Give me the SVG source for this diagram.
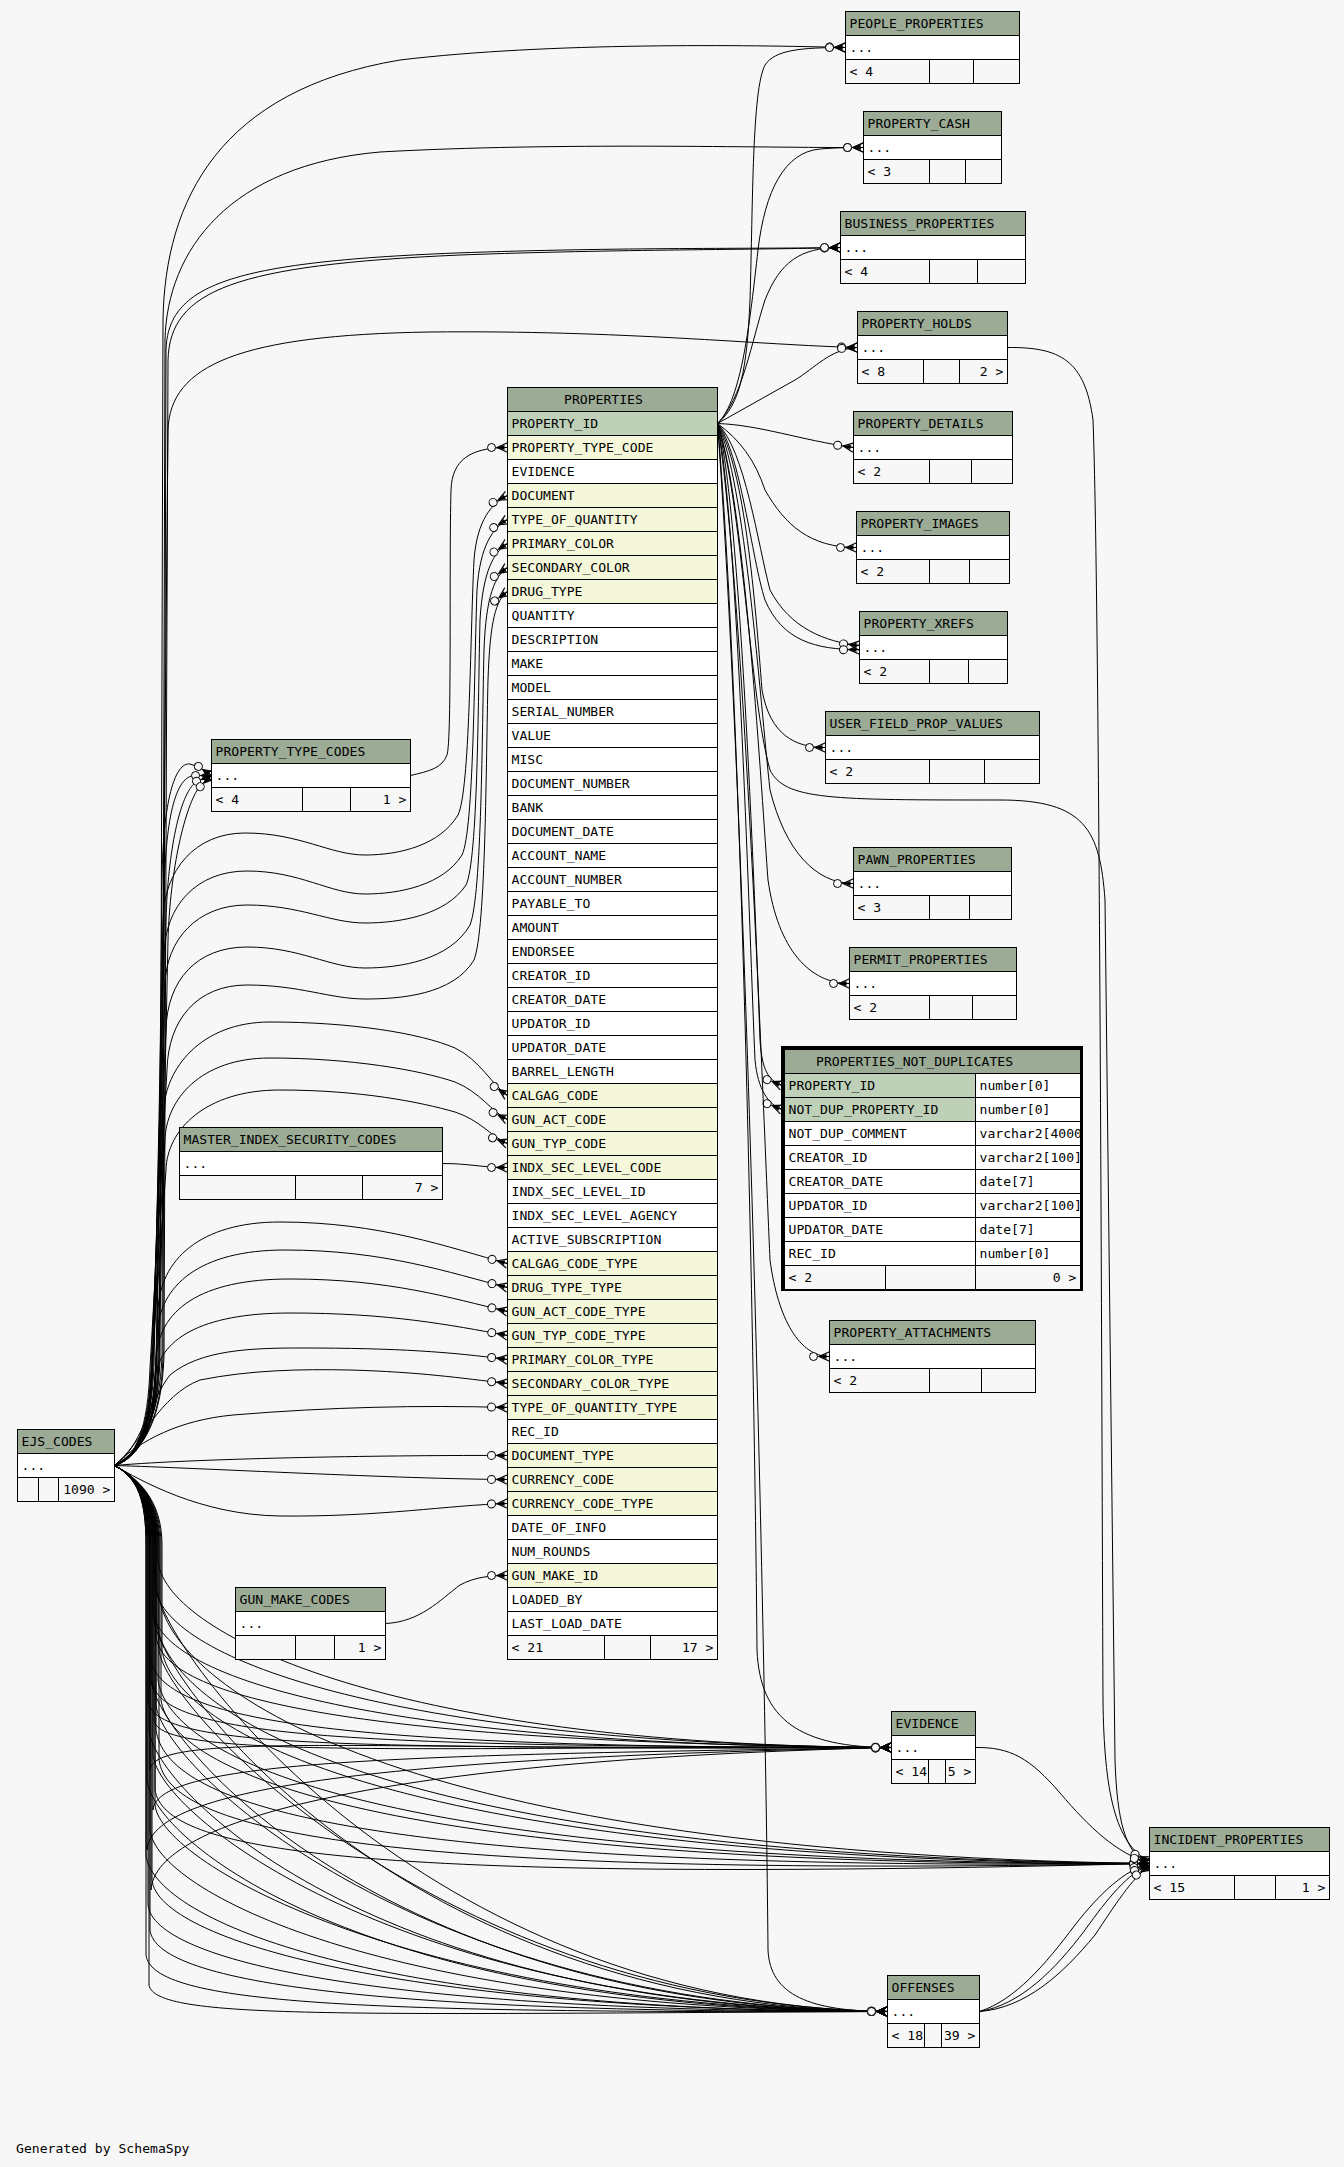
<svg xmlns="http://www.w3.org/2000/svg" width="1344" height="2167" viewBox="0 0 1344 2167">
<style>
.t{font-family:"DejaVu Sans Mono","Liberation Mono",monospace;font-size:13.1px;fill:#000}
.r{text-anchor:end}
.h{fill:#9bab96;stroke:#000;stroke-width:1}
.b{fill:#fff;stroke:#000;stroke-width:1}
.pk{fill:#bed1b8;stroke:#000;stroke-width:1}
.fk{fill:#f4f7da;stroke:#000;stroke-width:1}
.f{fill:#f7f7f7;stroke:#000;stroke-width:1}
.l{stroke:#000;stroke-width:1}
.e path{fill:none;stroke:#000;stroke-width:1;marker-end:url(#crow)}
</style>
<defs>
<marker id="crow" markerUnits="userSpaceOnUse" markerWidth="24" markerHeight="14" viewBox="-22 -7 24 14" refX="0" refY="0" orient="auto" overflow="visible">
<circle cx="-16" cy="0" r="4" fill="#f7f7f7" stroke="#000" stroke-width="1"/>
<path d="M0,-4.7 L-10.5,0 L0,4.7 M-10.5,0 L0,0" fill="none" stroke="#000" stroke-width="1.2"/>
<path d="M-10.5,0 L-3,-2.4 L-3,2.4 Z" fill="#000"/>
</marker>
<clipPath id="ndclip"><rect x="784" y="1049" width="296" height="240"/></clipPath>
</defs>
<rect x="0" y="0" width="1344" height="2167" fill="#f7f7f7"/>

<g id="connectors" class="e">
<!-- EJS_CODES to upper tables -->
<path d="M114.5,1465.5 C142,1452 158,1420 160,1360 L163,320 C165,200 220,90 400,60 C550,42 750,45 845.5,47.5"/>
<path d="M114.5,1465.5 C143,1450 160,1415 162,1355 L165,340 C167,250 230,165 380,152 C560,142 760,148 863.5,147.5"/>
<path d="M114.5,1465.5 C144,1451 161,1418 163,1358 L166,350 C168,285 230,262 456,253 C620,247 760,249 840.5,247.5"/>
<path d="M114.5,1465.5 C145,1452 162,1416 164,1356 L168,360 C170,290 235,265 460,255 C620,249 760,250 840.5,247.5"/>
<path d="M114.5,1465.5 C141,1453 157,1418 159,1358 L168,430 C170,365 240,335 430,332 C620,330 760,345 857.5,347.5"/>
<!-- EJS_CODES to PROPERTY_TYPE_CODES -->
<path d="M114.5,1465.5 C140,1454 155,1420 157,1360 L162,880 C163,800 175,762 190,764 C198,766 205,771 211.5,775.5"/>
<path d="M114.5,1465.5 C139,1455 154,1422 156,1362 L164,900 C165,820 175,775.5 195,775.5 L211.5,775.5"/>
<path d="M114.5,1465.5 C141,1455 156,1421 158,1361 L166,920 C168,850 180,795 195,783 C199,780.5 205,778 211.5,775.5"/>
<path d="M114.5,1465.5 C142,1456 157,1423 159,1363 L168,940 C170,870 185,805 200,786 C204,782 208,779 211.5,775.5"/>
<!-- EJS_CODES to PROPERTIES -->
<path d="M114.5,1465.5 C140,1456 152,1424 154,1364 L163,920 C164,870 195,833 245,833 C300,833 330,855 365,855 C400,855 440,845 458,815 C470,790 470,640 474,560 C477,520 492,503 507.5,495.5"/>
<path d="M114.5,1465.5 C139,1457 151,1425 153,1365 L164,955 C165,905 197,871 247,871 C300,871 330,894 365,894 C400,894 443,885 462,855 C474,830 474,670 477,590 C480,545 493,528 507.5,519.5"/>
<path d="M114.5,1465.5 C138,1457 150,1426 152,1366 L165,985 C166,940 197,905 247,905 C300,905 330,923 365,923 C400,923 446,915 466,885 C478,860 478,700 480,620 C483,570 494,552 507.5,543.5"/>
<path d="M114.5,1465.5 C137,1458 149,1427 151,1367 L166,1030 C167,980 197,947 247,947 C300,947 330,968 365,968 C400,968 450,960 470,925 C482,895 482,730 484,650 C486,595 495,576 507.5,567.5"/>
<path d="M114.5,1465.5 C136,1458 148,1428 150,1368 L167,1070 C168,1020 197,985 247,985 C300,985 330,999 365,999 C400,999 453,995 474,960 C486,930 486,760 488,680 C490,620 496,600 507.5,591.5"/>
<path d="M114.5,1465.5 C138,1459 150,1430 152,1380 L164,1110 C165,1070 200,1022 270,1022 C350,1022 420,1033 455,1048 C480,1060 492,1085 507.5,1095.5"/>
<path d="M114.5,1465.5 C137,1459 149,1431 151,1385 L165,1140 C166,1100 200,1058 270,1058 C350,1058 420,1070 455,1082 C480,1092 492,1112 507.5,1119.5"/>
<path d="M114.5,1465.5 C136,1460 148,1432 150,1390 L166,1170 C167,1130 205,1090 280,1090 C360,1090 420,1102 455,1112 C480,1120 493,1138 507.5,1143.5"/>
<path d="M114.5,1465.5 C138,1458 152,1430 155,1395 L158,1310 C160,1260 200,1222 280,1222 C380,1222 450,1248 507.5,1263.5"/>
<path d="M114.5,1465.5 C137,1458 151,1432 154,1400 L157,1335 C159,1285 200,1250 285,1250 C385,1250 450,1273 507.5,1287.5"/>
<path d="M114.5,1465.5 C136,1459 150,1435 153,1405 L156,1360 C158,1310 200,1279 290,1279 C390,1279 450,1298 507.5,1311.5"/>
<path d="M114.5,1465.5 C140,1455 152,1420 155,1380 C158,1340 200,1313 290,1313 C390,1313 450,1325 507.5,1335.5"/>
<path d="M114.5,1465.5 C140,1450 150,1400 170,1375 C200,1350 250,1348 300,1348 C400,1348 450,1352 507.5,1359.5"/>
<path d="M114.5,1465.5 C140,1445 160,1395 200,1380 C250,1370 300,1369 350,1370 C420,1372 460,1378 507.5,1383.5"/>
<path d="M114.5,1465.5 C140,1440 180,1420 233,1415 C330,1407 420,1405 507.5,1407.5"/>
<path d="M114.5,1465.5 C200,1458 400,1455 507.5,1455.5"/>
<path d="M114.5,1465.5 C200,1468 400,1479 507.5,1479.5"/>
<path d="M114.5,1465.5 C140,1480 200,1515 280,1516 C380,1517 450,1505 507.5,1503.5"/>
<!-- other parents to PROPERTIES -->
<path d="M410.5,775.5 C430,771 442,768 447,755 C452,740 449,560 451,490 C452,460 470,447.5 507.5,447.5"/>
<path d="M442.5,1163.5 C470,1163.5 480,1167.5 507.5,1167.5"/>
<path d="M385.5,1623.5 C420,1622 440,1600 460,1585 C475,1577 490,1575.5 507.5,1575.5"/>
<!-- EJS_CODES to EVIDENCE -->
<path d="M114.5,1465.5 C138,1478 158,1500 158,1545 L158,1560 C162,1630 380,1745 891.5,1747.5"/>
<path d="M114.5,1465.5 C138,1478 155,1500 155,1545 L155,1585 C159,1655 380,1744 891.5,1747.5"/>
<path d="M114.5,1465.5 C138,1478 153,1500 153,1545 L153,1610 C157,1680 390,1746 891.5,1747.5"/>
<path d="M114.5,1465.5 C138,1478 156,1500 156,1545 L156,1635 C160,1705 400,1743 891.5,1747.5"/>
<path d="M114.5,1465.5 C138,1478 150,1500 150,1545 L150,1655 C154,1725 360,1748 891.5,1747.5"/>
<path d="M114.5,1465.5 C138,1478 152,1500 152,1545 L152,1680 C156,1740 370,1746 891.5,1747.5"/>
<path d="M114.5,1465.5 C138,1478 148,1500 148,1545 L148,1700 C152,1750 350,1747 891.5,1747.5"/>
<path d="M114.5,1465.5 C138,1478 154,1500 154,1545 L154,1720 C158,1760 420,1746 891.5,1747.5"/>
<path d="M114.5,1465.5 C138,1478 150,1500 150,1545 L150,1770 C154,1730 380,1752 891.5,1747.5"/>
<path d="M114.5,1465.5 C138,1478 153,1500 153,1545 L153,1810 C157,1760 400,1755 891.5,1747.5"/>
<path d="M114.5,1465.5 C138,1478 147,1500 147,1545 L147,1850 C151,1790 360,1758 891.5,1747.5"/>
<path d="M114.5,1465.5 C138,1478 151,1500 151,1545 L151,1890 C155,1820 380,1760 891.5,1747.5"/>
<!-- EJS_CODES to INCIDENT_PROPERTIES -->
<path d="M114.5,1465.5 C138,1478 160,1500 160,1545 L160,1600 C170,1670 350,1852 1149.5,1863.5"/>
<path d="M114.5,1465.5 C138,1478 157,1500 157,1545 L157,1625 C167,1695 330,1856 1149.5,1863.5"/>
<path d="M114.5,1465.5 C138,1478 162,1500 162,1545 L162,1650 C172,1720 360,1860 1149.5,1863.5"/>
<path d="M114.5,1465.5 C138,1478 158,1500 158,1545 L158,1680 C168,1750 340,1864 1149.5,1863.5"/>
<path d="M114.5,1465.5 C138,1478 161,1500 161,1545 L161,1700 C171,1770 370,1868 1149.5,1863.5"/>
<path d="M114.5,1465.5 C138,1478 156,1500 156,1545 L156,1730 C166,1800 330,1872 1149.5,1863.5"/>
<path d="M114.5,1465.5 C138,1478 159,1500 159,1545 L159,1760 C169,1830 360,1878 1149.5,1863.5"/>
<path d="M114.5,1465.5 C138,1478 155,1500 155,1545 L155,1790 C165,1850 340,1884 1149.5,1863.5"/>
<!-- EJS_CODES to OFFENSES -->
<path d="M114.5,1465.5 C138,1478 157,1500 157,1545 L157,1590 C163,1650 420,2005 887.5,2011.5"/>
<path d="M114.5,1465.5 C138,1478 154,1500 154,1545 L154,1620 C160,1680 400,2008 887.5,2011.5"/>
<path d="M114.5,1465.5 C138,1478 159,1500 159,1545 L159,1650 C165,1710 440,2004 887.5,2011.5"/>
<path d="M114.5,1465.5 C138,1478 151,1500 151,1545 L151,1680 C157,1740 380,2009 887.5,2011.5"/>
<path d="M114.5,1465.5 C138,1478 156,1500 156,1545 L156,1705 C162,1765 410,2007 887.5,2011.5"/>
<path d="M114.5,1465.5 C138,1478 149,1500 149,1545 L149,1730 C155,1790 370,2010 887.5,2011.5"/>
<path d="M114.5,1465.5 C138,1478 153,1500 153,1545 L153,1755 C159,1815 400,2008 887.5,2011.5"/>
<path d="M114.5,1465.5 C138,1478 147,1500 147,1545 L147,1780 C153,1840 360,2011 887.5,2011.5"/>
<path d="M114.5,1465.5 C138,1478 155,1500 155,1545 L155,1805 C161,1865 420,2009 887.5,2011.5"/>
<path d="M114.5,1465.5 C138,1478 150,1500 150,1545 L150,1830 C156,1890 380,2010 887.5,2011.5"/>
<path d="M114.5,1465.5 C138,1478 146,1500 146,1545 L146,1855 C152,1915 350,2012 887.5,2011.5"/>
<path d="M114.5,1465.5 C138,1478 152,1500 152,1545 L152,1880 C158,1940 400,2011 887.5,2011.5"/>
<path d="M114.5,1465.5 C138,1478 148,1500 148,1545 L148,1905 C154,1960 370,2012 887.5,2011.5"/>
<path d="M114.5,1465.5 C138,1478 150,1500 150,1545 L150,1930 C156,1985 390,2013 887.5,2011.5"/>
<path d="M114.5,1465.5 C138,1478 146,1500 146,1545 L146,1955 C152,2005 360,2013 887.5,2011.5"/>
<path d="M114.5,1465.5 C138,1478 149,1500 149,1545 L149,1985 C155,2020 340,2014 887.5,2011.5"/>
<!-- PROPERTIES.PROPERTY_ID to children -->
<path d="M717.5,423.5 C740,405 747,370 750,300 C753,200 752,90 765,65 C775,50 800,47.5 845.5,47.5"/>
<path d="M717.5,423.5 C742,400 750,320 758,250 C765,190 785,152 820,149 C840,147.5 850,147.5 863.5,147.5"/>
<path d="M717.5,423.5 C742,400 752,340 765,300 C780,262 800,247.5 840.5,247.5"/>
<path d="M717.5,423.5 L795,380 C815,368 830,349 857.5,347.5"/>
<path d="M717.5,423.5 C760,425 800,440 853.5,447.5"/>
<path d="M717.5,423.5 C740,440 755,460 765,490 C785,525 810,547.5 856.5,547.5"/>
<path d="M717.5,423.5 C745,450 758,545 770,590 C790,628 825,642 859.5,645.5"/>
<path d="M717.5,423.5 C740,450 752,560 765,600 C782,640 815,650 859.5,649.5"/>
<path d="M717.5,423.5 C745,470 755,600 762,690 C770,735 795,747.5 825.5,747.5"/>
<path d="M717.5,423.5 C745,480 760,700 770,790 C785,850 815,883.5 853.5,883.5"/>
<path d="M717.5,423.5 C745,500 762,800 768,880 C778,950 810,983.5 849.5,983.5"/>
<path d="M717.5,423.5 C740,500 755,900 760,1040 C762,1070 768,1080 782,1085.5"/>
<path d="M717.5,423.5 C738,520 750,950 755,1060 C758,1090 768,1104 782,1109.5"/>
<path d="M717.5,423.5 C745,600 765,1150 770,1260 C778,1320 800,1356.5 829.5,1356.5"/>
<path d="M717.5,423.5 C742,700 755,1400 757,1650 C760,1720 800,1747.5 891.5,1747.5"/>
<path d="M717.5,423.5 C745,800 765,1600 768,1950 C770,1995 810,2011.5 887.5,2011.5"/>
<path d="M717.5,423.5 C742,500 750,700 770,770 C785,800 830,800 1000,800 C1085,800 1100,830 1105,900 L1115,1760 C1117,1820 1125,1855 1149.5,1863.5"/>
<!-- into INCIDENT_PROPERTIES -->
<path d="M1007.5,347.5 C1060,347 1085,360 1093,420 C1100,600 1102,1500 1103,1700 C1104,1790 1115,1845 1149.5,1861"/>
<path d="M975.5,1747.5 C1010,1747 1030,1758 1060,1793 C1090,1828 1115,1852 1149.5,1863.5"/>
<path d="M979.5,2011.5 C1015,2000 1045,1965 1075,1925 C1100,1893 1125,1870 1149.5,1863.5"/>
<path d="M979.5,2011.5 C1020,2005 1055,1970 1085,1930 C1108,1898 1128,1873 1149.5,1865"/>
<path d="M979.5,2011.5 C1025,2008 1062,1975 1095,1935 C1115,1905 1132,1878 1149.5,1866"/>
</g>

<g id="PEOPLE_PROPERTIES">
<rect class="h" x="845.5" y="11.5" width="174" height="24"/><text class="t" x="849.5" y="27.5">PEOPLE_PROPERTIES</text>
<rect class="b" x="845.5" y="35.5" width="174" height="24"/><text class="t" x="849.5" y="51.5">...</text>
<rect class="f" x="845.5" y="59.5" width="174" height="24"/><line class="l" x1="929.5" y1="59.5" x2="929.5" y2="83.5"/><line class="l" x1="973.5" y1="59.5" x2="973.5" y2="83.5"/>
<text class="t" x="849.5" y="75.5">&lt; 4</text>
</g>
<g id="PROPERTY_CASH">
<rect class="h" x="863.5" y="111.5" width="138" height="24"/><text class="t" x="867.5" y="127.5">PROPERTY_CASH</text>
<rect class="b" x="863.5" y="135.5" width="138" height="24"/><text class="t" x="867.5" y="151.5">...</text>
<rect class="f" x="863.5" y="159.5" width="138" height="24"/><line class="l" x1="929.5" y1="159.5" x2="929.5" y2="183.5"/><line class="l" x1="965.5" y1="159.5" x2="965.5" y2="183.5"/>
<text class="t" x="867.5" y="175.5">&lt; 3</text>
</g>
<g id="BUSINESS_PROPERTIES">
<rect class="h" x="840.5" y="211.5" width="185" height="24"/><text class="t" x="844.5" y="227.5">BUSINESS_PROPERTIES</text>
<rect class="b" x="840.5" y="235.5" width="185" height="24"/><text class="t" x="844.5" y="251.5">...</text>
<rect class="f" x="840.5" y="259.5" width="185" height="24"/><line class="l" x1="929.5" y1="259.5" x2="929.5" y2="283.5"/><line class="l" x1="977.5" y1="259.5" x2="977.5" y2="283.5"/>
<text class="t" x="844.5" y="275.5">&lt; 4</text>
</g>
<g id="PROPERTY_HOLDS">
<rect class="h" x="857.5" y="311.5" width="150" height="24"/><text class="t" x="861.5" y="327.5">PROPERTY_HOLDS</text>
<rect class="b" x="857.5" y="335.5" width="150" height="24"/><text class="t" x="861.5" y="351.5">...</text>
<rect class="f" x="857.5" y="359.5" width="150" height="24"/><line class="l" x1="923.5" y1="359.5" x2="923.5" y2="383.5"/><line class="l" x1="959.5" y1="359.5" x2="959.5" y2="383.5"/>
<text class="t" x="861.5" y="375.5">&lt; 8</text><text class="t r" x="1003.5" y="375.5">2 &gt;</text>
</g>
<g id="PROPERTY_DETAILS">
<rect class="h" x="853.5" y="411.5" width="159" height="24"/><text class="t" x="857.5" y="427.5">PROPERTY_DETAILS</text>
<rect class="b" x="853.5" y="435.5" width="159" height="24"/><text class="t" x="857.5" y="451.5">...</text>
<rect class="f" x="853.5" y="459.5" width="159" height="24"/><line class="l" x1="929.5" y1="459.5" x2="929.5" y2="483.5"/><line class="l" x1="971.5" y1="459.5" x2="971.5" y2="483.5"/>
<text class="t" x="857.5" y="475.5">&lt; 2</text>
</g>
<g id="PROPERTY_IMAGES">
<rect class="h" x="856.5" y="511.5" width="153" height="24"/><text class="t" x="860.5" y="527.5">PROPERTY_IMAGES</text>
<rect class="b" x="856.5" y="535.5" width="153" height="24"/><text class="t" x="860.5" y="551.5">...</text>
<rect class="f" x="856.5" y="559.5" width="153" height="24"/><line class="l" x1="929.5" y1="559.5" x2="929.5" y2="583.5"/><line class="l" x1="969.5" y1="559.5" x2="969.5" y2="583.5"/>
<text class="t" x="860.5" y="575.5">&lt; 2</text>
</g>
<g id="PROPERTY_XREFS">
<rect class="h" x="859.5" y="611.5" width="148" height="24"/><text class="t" x="863.5" y="627.5">PROPERTY_XREFS</text>
<rect class="b" x="859.5" y="635.5" width="148" height="24"/><text class="t" x="863.5" y="651.5">...</text>
<rect class="f" x="859.5" y="659.5" width="148" height="24"/><line class="l" x1="929.5" y1="659.5" x2="929.5" y2="683.5"/><line class="l" x1="968.5" y1="659.5" x2="968.5" y2="683.5"/>
<text class="t" x="863.5" y="675.5">&lt; 2</text>
</g>
<g id="USER_FIELD_PROP_VALUES">
<rect class="h" x="825.5" y="711.5" width="214" height="24"/><text class="t" x="829.5" y="727.5">USER_FIELD_PROP_VALUES</text>
<rect class="b" x="825.5" y="735.5" width="214" height="24"/><text class="t" x="829.5" y="751.5">...</text>
<rect class="f" x="825.5" y="759.5" width="214" height="24"/><line class="l" x1="929.5" y1="759.5" x2="929.5" y2="783.5"/><line class="l" x1="984.5" y1="759.5" x2="984.5" y2="783.5"/>
<text class="t" x="829.5" y="775.5">&lt; 2</text>
</g>
<g id="PAWN_PROPERTIES">
<rect class="h" x="853.5" y="847.5" width="158" height="24"/><text class="t" x="857.5" y="863.5">PAWN_PROPERTIES</text>
<rect class="b" x="853.5" y="871.5" width="158" height="24"/><text class="t" x="857.5" y="887.5">...</text>
<rect class="f" x="853.5" y="895.5" width="158" height="24"/><line class="l" x1="929.5" y1="895.5" x2="929.5" y2="919.5"/><line class="l" x1="969.5" y1="895.5" x2="969.5" y2="919.5"/>
<text class="t" x="857.5" y="911.5">&lt; 3</text>
</g>
<g id="PERMIT_PROPERTIES">
<rect class="h" x="849.5" y="947.5" width="167" height="24"/><text class="t" x="853.5" y="963.5">PERMIT_PROPERTIES</text>
<rect class="b" x="849.5" y="971.5" width="167" height="24"/><text class="t" x="853.5" y="987.5">...</text>
<rect class="f" x="849.5" y="995.5" width="167" height="24"/><line class="l" x1="929.5" y1="995.5" x2="929.5" y2="1019.5"/><line class="l" x1="972.5" y1="995.5" x2="972.5" y2="1019.5"/>
<text class="t" x="853.5" y="1011.5">&lt; 2</text>
</g>
<g id="PROPERTY_ATTACHMENTS">
<rect class="h" x="829.5" y="1320.5" width="206" height="24"/><text class="t" x="833.5" y="1336.5">PROPERTY_ATTACHMENTS</text>
<rect class="b" x="829.5" y="1344.5" width="206" height="24"/><text class="t" x="833.5" y="1360.5">...</text>
<rect class="f" x="829.5" y="1368.5" width="206" height="24"/><line class="l" x1="929.5" y1="1368.5" x2="929.5" y2="1392.5"/><line class="l" x1="981.5" y1="1368.5" x2="981.5" y2="1392.5"/>
<text class="t" x="833.5" y="1384.5">&lt; 2</text>
</g>
<g id="EVIDENCE">
<rect class="h" x="891.5" y="1711.5" width="84" height="24"/><text class="t" x="895.5" y="1727.5">EVIDENCE</text>
<rect class="b" x="891.5" y="1735.5" width="84" height="24"/><text class="t" x="895.5" y="1751.5">...</text>
<rect class="f" x="891.5" y="1759.5" width="84" height="24"/><line class="l" x1="928.5" y1="1759.5" x2="928.5" y2="1783.5"/><line class="l" x1="945.5" y1="1759.5" x2="945.5" y2="1783.5"/>
<text class="t" x="895.5" y="1775.5">&lt; 14</text><text class="t r" x="971.5" y="1775.5">5 &gt;</text>
</g>
<g id="INCIDENT_PROPERTIES">
<rect class="h" x="1149.5" y="1827.5" width="180" height="24"/><text class="t" x="1153.5" y="1843.5">INCIDENT_PROPERTIES</text>
<rect class="b" x="1149.5" y="1851.5" width="180" height="24"/><text class="t" x="1153.5" y="1867.5">...</text>
<rect class="f" x="1149.5" y="1875.5" width="180" height="24"/><line class="l" x1="1234.5" y1="1875.5" x2="1234.5" y2="1899.5"/><line class="l" x1="1275.5" y1="1875.5" x2="1275.5" y2="1899.5"/>
<text class="t" x="1153.5" y="1891.5">&lt; 15</text><text class="t r" x="1325.5" y="1891.5">1 &gt;</text>
</g>
<g id="OFFENSES">
<rect class="h" x="887.5" y="1975.5" width="92" height="24"/><text class="t" x="891.5" y="1991.5">OFFENSES</text>
<rect class="b" x="887.5" y="1999.5" width="92" height="24"/><text class="t" x="891.5" y="2015.5">...</text>
<rect class="f" x="887.5" y="2023.5" width="92" height="24"/><line class="l" x1="924.5" y1="2023.5" x2="924.5" y2="2047.5"/><line class="l" x1="941.5" y1="2023.5" x2="941.5" y2="2047.5"/>
<text class="t" x="891.5" y="2039.5">&lt; 18</text><text class="t r" x="975.5" y="2039.5">39 &gt;</text>
</g>
<g id="PROPERTY_TYPE_CODES">
<rect class="h" x="211.5" y="739.5" width="199" height="24"/><text class="t" x="215.5" y="755.5">PROPERTY_TYPE_CODES</text>
<rect class="b" x="211.5" y="763.5" width="199" height="24"/><text class="t" x="215.5" y="779.5">...</text>
<rect class="f" x="211.5" y="787.5" width="199" height="24"/><line class="l" x1="302.5" y1="787.5" x2="302.5" y2="811.5"/><line class="l" x1="350.5" y1="787.5" x2="350.5" y2="811.5"/>
<text class="t" x="215.5" y="803.5">&lt; 4</text><text class="t r" x="406.5" y="803.5">1 &gt;</text>
</g>
<g id="MASTER_INDEX_SECURITY_CODES">
<rect class="h" x="179.5" y="1127.5" width="263" height="24"/><text class="t" x="183.5" y="1143.5">MASTER_INDEX_SECURITY_CODES</text>
<rect class="b" x="179.5" y="1151.5" width="263" height="24"/><text class="t" x="183.5" y="1167.5">...</text>
<rect class="f" x="179.5" y="1175.5" width="263" height="24"/><line class="l" x1="295.5" y1="1175.5" x2="295.5" y2="1199.5"/><line class="l" x1="362.5" y1="1175.5" x2="362.5" y2="1199.5"/>
<text class="t r" x="438.5" y="1191.5">7 &gt;</text>
</g>
<g id="EJS_CODES">
<rect class="h" x="17.5" y="1429.5" width="97" height="24"/><text class="t" x="21.5" y="1445.5">EJS_CODES</text>
<rect class="b" x="17.5" y="1453.5" width="97" height="24"/><text class="t" x="21.5" y="1469.5">...</text>
<rect class="f" x="17.5" y="1477.5" width="97" height="24"/><line class="l" x1="38.5" y1="1477.5" x2="38.5" y2="1501.5"/><line class="l" x1="58.5" y1="1477.5" x2="58.5" y2="1501.5"/>
<text class="t r" x="110.5" y="1493.5">1090 &gt;</text>
</g>
<g id="GUN_MAKE_CODES">
<rect class="h" x="235.5" y="1587.5" width="150" height="24"/><text class="t" x="239.5" y="1603.5">GUN_MAKE_CODES</text>
<rect class="b" x="235.5" y="1611.5" width="150" height="24"/><text class="t" x="239.5" y="1627.5">...</text>
<rect class="f" x="235.5" y="1635.5" width="150" height="24"/><line class="l" x1="295.5" y1="1635.5" x2="295.5" y2="1659.5"/><line class="l" x1="334.5" y1="1635.5" x2="334.5" y2="1659.5"/>
<text class="t r" x="381.5" y="1651.5">1 &gt;</text>
</g>

<g id="PROPERTIES">
<rect class="h" x="507.5" y="387.5" width="210" height="24"/><text class="t" x="564" y="403.5">PROPERTIES</text>
<rect class="pk" x="507.5" y="411.5" width="210" height="24"/><text class="t" x="511.5" y="427.5">PROPERTY_ID</text>
<rect class="fk" x="507.5" y="435.5" width="210" height="24"/><text class="t" x="511.5" y="451.5">PROPERTY_TYPE_CODE</text>
<rect class="b" x="507.5" y="459.5" width="210" height="24"/><text class="t" x="511.5" y="475.5">EVIDENCE</text>
<rect class="fk" x="507.5" y="483.5" width="210" height="24"/><text class="t" x="511.5" y="499.5">DOCUMENT</text>
<rect class="fk" x="507.5" y="507.5" width="210" height="24"/><text class="t" x="511.5" y="523.5">TYPE_OF_QUANTITY</text>
<rect class="fk" x="507.5" y="531.5" width="210" height="24"/><text class="t" x="511.5" y="547.5">PRIMARY_COLOR</text>
<rect class="fk" x="507.5" y="555.5" width="210" height="24"/><text class="t" x="511.5" y="571.5">SECONDARY_COLOR</text>
<rect class="fk" x="507.5" y="579.5" width="210" height="24"/><text class="t" x="511.5" y="595.5">DRUG_TYPE</text>
<rect class="b" x="507.5" y="603.5" width="210" height="24"/><text class="t" x="511.5" y="619.5">QUANTITY</text>
<rect class="b" x="507.5" y="627.5" width="210" height="24"/><text class="t" x="511.5" y="643.5">DESCRIPTION</text>
<rect class="b" x="507.5" y="651.5" width="210" height="24"/><text class="t" x="511.5" y="667.5">MAKE</text>
<rect class="b" x="507.5" y="675.5" width="210" height="24"/><text class="t" x="511.5" y="691.5">MODEL</text>
<rect class="b" x="507.5" y="699.5" width="210" height="24"/><text class="t" x="511.5" y="715.5">SERIAL_NUMBER</text>
<rect class="b" x="507.5" y="723.5" width="210" height="24"/><text class="t" x="511.5" y="739.5">VALUE</text>
<rect class="b" x="507.5" y="747.5" width="210" height="24"/><text class="t" x="511.5" y="763.5">MISC</text>
<rect class="b" x="507.5" y="771.5" width="210" height="24"/><text class="t" x="511.5" y="787.5">DOCUMENT_NUMBER</text>
<rect class="b" x="507.5" y="795.5" width="210" height="24"/><text class="t" x="511.5" y="811.5">BANK</text>
<rect class="b" x="507.5" y="819.5" width="210" height="24"/><text class="t" x="511.5" y="835.5">DOCUMENT_DATE</text>
<rect class="b" x="507.5" y="843.5" width="210" height="24"/><text class="t" x="511.5" y="859.5">ACCOUNT_NAME</text>
<rect class="b" x="507.5" y="867.5" width="210" height="24"/><text class="t" x="511.5" y="883.5">ACCOUNT_NUMBER</text>
<rect class="b" x="507.5" y="891.5" width="210" height="24"/><text class="t" x="511.5" y="907.5">PAYABLE_TO</text>
<rect class="b" x="507.5" y="915.5" width="210" height="24"/><text class="t" x="511.5" y="931.5">AMOUNT</text>
<rect class="b" x="507.5" y="939.5" width="210" height="24"/><text class="t" x="511.5" y="955.5">ENDORSEE</text>
<rect class="b" x="507.5" y="963.5" width="210" height="24"/><text class="t" x="511.5" y="979.5">CREATOR_ID</text>
<rect class="b" x="507.5" y="987.5" width="210" height="24"/><text class="t" x="511.5" y="1003.5">CREATOR_DATE</text>
<rect class="b" x="507.5" y="1011.5" width="210" height="24"/><text class="t" x="511.5" y="1027.5">UPDATOR_ID</text>
<rect class="b" x="507.5" y="1035.5" width="210" height="24"/><text class="t" x="511.5" y="1051.5">UPDATOR_DATE</text>
<rect class="b" x="507.5" y="1059.5" width="210" height="24"/><text class="t" x="511.5" y="1075.5">BARREL_LENGTH</text>
<rect class="fk" x="507.5" y="1083.5" width="210" height="24"/><text class="t" x="511.5" y="1099.5">CALGAG_CODE</text>
<rect class="fk" x="507.5" y="1107.5" width="210" height="24"/><text class="t" x="511.5" y="1123.5">GUN_ACT_CODE</text>
<rect class="fk" x="507.5" y="1131.5" width="210" height="24"/><text class="t" x="511.5" y="1147.5">GUN_TYP_CODE</text>
<rect class="fk" x="507.5" y="1155.5" width="210" height="24"/><text class="t" x="511.5" y="1171.5">INDX_SEC_LEVEL_CODE</text>
<rect class="b" x="507.5" y="1179.5" width="210" height="24"/><text class="t" x="511.5" y="1195.5">INDX_SEC_LEVEL_ID</text>
<rect class="b" x="507.5" y="1203.5" width="210" height="24"/><text class="t" x="511.5" y="1219.5">INDX_SEC_LEVEL_AGENCY</text>
<rect class="b" x="507.5" y="1227.5" width="210" height="24"/><text class="t" x="511.5" y="1243.5">ACTIVE_SUBSCRIPTION</text>
<rect class="fk" x="507.5" y="1251.5" width="210" height="24"/><text class="t" x="511.5" y="1267.5">CALGAG_CODE_TYPE</text>
<rect class="fk" x="507.5" y="1275.5" width="210" height="24"/><text class="t" x="511.5" y="1291.5">DRUG_TYPE_TYPE</text>
<rect class="fk" x="507.5" y="1299.5" width="210" height="24"/><text class="t" x="511.5" y="1315.5">GUN_ACT_CODE_TYPE</text>
<rect class="fk" x="507.5" y="1323.5" width="210" height="24"/><text class="t" x="511.5" y="1339.5">GUN_TYP_CODE_TYPE</text>
<rect class="fk" x="507.5" y="1347.5" width="210" height="24"/><text class="t" x="511.5" y="1363.5">PRIMARY_COLOR_TYPE</text>
<rect class="fk" x="507.5" y="1371.5" width="210" height="24"/><text class="t" x="511.5" y="1387.5">SECONDARY_COLOR_TYPE</text>
<rect class="fk" x="507.5" y="1395.5" width="210" height="24"/><text class="t" x="511.5" y="1411.5">TYPE_OF_QUANTITY_TYPE</text>
<rect class="b" x="507.5" y="1419.5" width="210" height="24"/><text class="t" x="511.5" y="1435.5">REC_ID</text>
<rect class="fk" x="507.5" y="1443.5" width="210" height="24"/><text class="t" x="511.5" y="1459.5">DOCUMENT_TYPE</text>
<rect class="fk" x="507.5" y="1467.5" width="210" height="24"/><text class="t" x="511.5" y="1483.5">CURRENCY_CODE</text>
<rect class="fk" x="507.5" y="1491.5" width="210" height="24"/><text class="t" x="511.5" y="1507.5">CURRENCY_CODE_TYPE</text>
<rect class="b" x="507.5" y="1515.5" width="210" height="24"/><text class="t" x="511.5" y="1531.5">DATE_OF_INFO</text>
<rect class="b" x="507.5" y="1539.5" width="210" height="24"/><text class="t" x="511.5" y="1555.5">NUM_ROUNDS</text>
<rect class="fk" x="507.5" y="1563.5" width="210" height="24"/><text class="t" x="511.5" y="1579.5">GUN_MAKE_ID</text>
<rect class="b" x="507.5" y="1587.5" width="210" height="24"/><text class="t" x="511.5" y="1603.5">LOADED_BY</text>
<rect class="b" x="507.5" y="1611.5" width="210" height="24"/><text class="t" x="511.5" y="1627.5">LAST_LOAD_DATE</text>
<rect class="f" x="507.5" y="1635.5" width="210" height="24"/><line class="l" x1="604.5" y1="1635.5" x2="604.5" y2="1659.5"/><line class="l" x1="650.5" y1="1635.5" x2="650.5" y2="1659.5"/>
<text class="t" x="511.5" y="1651.5">&lt; 21</text><text class="t r" x="713.5" y="1651.5">17 &gt;</text>
</g>

<g id="PROPERTIES_NOT_DUPLICATES">
<rect x="782.5" y="1047.5" width="299" height="242" fill="#f7f7f7" stroke="#000" stroke-width="3"/>
<rect class="h" x="784.5" y="1049.5" width="296" height="24"/><text class="t" x="816" y="1065.5">PROPERTIES_NOT_DUPLICATES</text>
<rect class="pk" x="784.5" y="1073.5" width="191" height="24"/><rect class="b" x="975.5" y="1073.5" width="105" height="24"/>
<rect class="pk" x="784.5" y="1097.5" width="191" height="24"/><rect class="b" x="975.5" y="1097.5" width="105" height="24"/>
<rect class="b" x="784.5" y="1121.5" width="191" height="24"/><rect class="b" x="975.5" y="1121.5" width="105" height="24"/>
<rect class="b" x="784.5" y="1145.5" width="191" height="24"/><rect class="b" x="975.5" y="1145.5" width="105" height="24"/>
<rect class="b" x="784.5" y="1169.5" width="191" height="24"/><rect class="b" x="975.5" y="1169.5" width="105" height="24"/>
<rect class="b" x="784.5" y="1193.5" width="191" height="24"/><rect class="b" x="975.5" y="1193.5" width="105" height="24"/>
<rect class="b" x="784.5" y="1217.5" width="191" height="24"/><rect class="b" x="975.5" y="1217.5" width="105" height="24"/>
<rect class="b" x="784.5" y="1241.5" width="191" height="24"/><rect class="b" x="975.5" y="1241.5" width="105" height="24"/>
<rect class="f" x="784.5" y="1265.5" width="296" height="24"/><line class="l" x1="885.5" y1="1265.5" x2="885.5" y2="1289.5"/><line class="l" x1="975.5" y1="1265.5" x2="975.5" y2="1289.5"/>
<text class="t" x="788.5" y="1089.5">PROPERTY_ID</text>
<text class="t" x="788.5" y="1113.5">NOT_DUP_PROPERTY_ID</text>
<text class="t" x="788.5" y="1137.5">NOT_DUP_COMMENT</text>
<text class="t" x="788.5" y="1161.5">CREATOR_ID</text>
<text class="t" x="788.5" y="1185.5">CREATOR_DATE</text>
<text class="t" x="788.5" y="1209.5">UPDATOR_ID</text>
<text class="t" x="788.5" y="1233.5">UPDATOR_DATE</text>
<text class="t" x="788.5" y="1257.5">REC_ID</text>
<g clip-path="url(#ndclip)">
<text class="t" x="979.5" y="1089.5">number[0]</text>
<text class="t" x="979.5" y="1113.5">number[0]</text>
<text class="t" x="979.5" y="1137.5">varchar2[4000]</text>
<text class="t" x="979.5" y="1161.5">varchar2[100]</text>
<text class="t" x="979.5" y="1185.5">date[7]</text>
<text class="t" x="979.5" y="1209.5">varchar2[100]</text>
<text class="t" x="979.5" y="1233.5">date[7]</text>
<text class="t" x="979.5" y="1257.5">number[0]</text>
</g>
<text class="t" x="788.5" y="1281.5">&lt; 2</text><text class="t r" x="1076.5" y="1281.5">0 &gt;</text>
</g>

<text class="t" x="16" y="2153">Generated by SchemaSpy</text>
</svg>
